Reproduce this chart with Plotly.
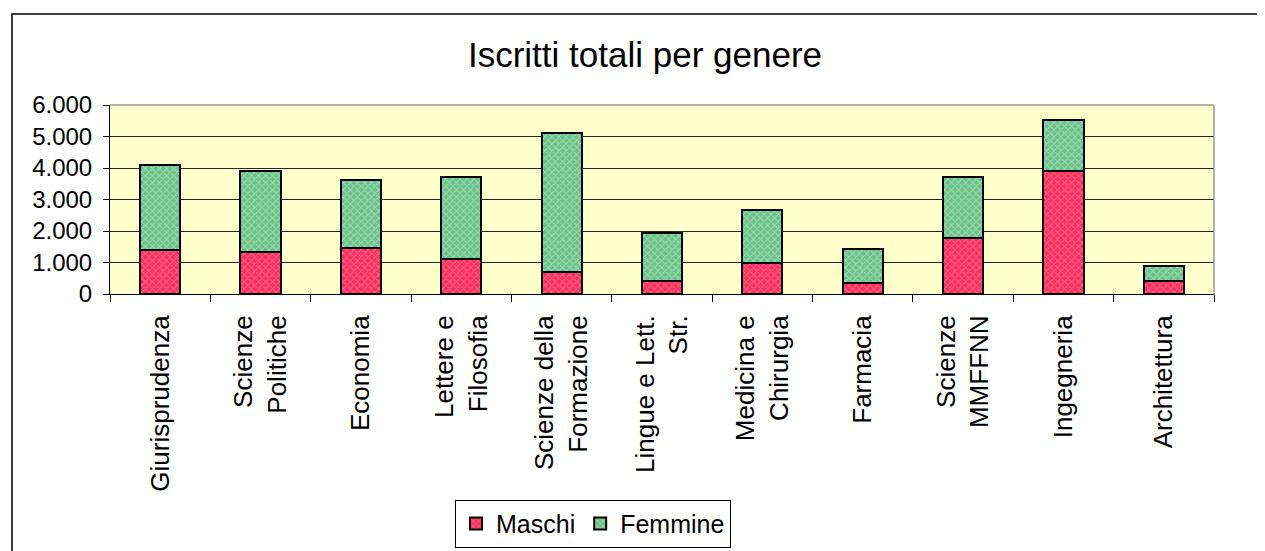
import plotly.graph_objects as go

categories = ["Giurisprudenza", "Scienze<br>Politiche", "Economia", "Lettere e<br>Filosofia",
              "Scienze della<br>Formazione", "Lingue e Lett.<br>Str.", "Medicina e<br>Chirurgia",
              "Farmacia", "Scienze<br>MMFFNN", "Ingegneria", "Architettura"]
maschi = [1395, 1345, 1470, 1110, 705, 400, 1000, 345, 1765, 3915, 400]
totali = [4080, 3915, 3620, 3725, 5100, 1940, 2655, 1415, 3725, 5510, 880]
femmine = [t - m for t, m in zip(totali, maschi)]
y_ticks = [0, 1000, 2000, 3000, 4000, 5000, 6000]

FONT = "Liberation Sans, Arial, sans-serif"

fig = go.Figure()
fig.add_trace(go.Bar(
    x=categories, y=maschi, name="Maschi", width=0.4,
    marker=dict(color="#FF2D5A", line=dict(color="black", width=2),
                pattern=dict(shape="x", fgcolor="#FF9CC8", size=5, solidity=0.35)),
))
fig.add_trace(go.Bar(
    x=categories, y=femmine, name="Femmine", width=0.4,
    marker=dict(color="#6CC08C", line=dict(color="black", width=2),
                pattern=dict(shape="x", fgcolor="#CCFFD0", size=5, solidity=0.35)),
))

fig.update_layout(
    barmode="stack",
    width=1265, height=551,
    margin=dict(l=102, r=59, t=97, b=263),
    paper_bgcolor="white",
    plot_bgcolor="#FFFFCC",
    separators=",.",
    font=dict(family=FONT, color="black", size=24),
    title=dict(text="Iscritti totali per genere", x=637 / 1265, xanchor="center",
               y=1 - 47 / 551, yanchor="middle",
               font=dict(size=35, family=FONT, color="black")),
    showlegend=True,
    legend=dict(orientation="h", x=0.4375, xanchor="center", y=-1.089, yanchor="top",
                bordercolor="black", borderwidth=1, bgcolor="white",
                font=dict(size=25, family=FONT), traceorder="normal",
                itemwidth=30),
    bargap=0.6,
)
fig.update_yaxes(range=[0, 6000], tickvals=y_ticks, tickformat=",d",
                 showgrid=True, gridcolor="#222222", gridwidth=1,
                 showline=True, linecolor="black", linewidth=1,
                 ticks="outside", ticklen=6, tickcolor="black",
                 ticklabelstandoff=6,
                 tickfont=dict(size=24), fixedrange=True, zeroline=False)
fig.update_xaxes(type="category", tickangle=-90, tickson="boundaries",
                 showline=True, linecolor="black", linewidth=1,
                 ticks="outside", ticklen=7, tickcolor="black",
                 ticklabelstandoff=10,
                 tickfont=dict(size=26), mirror=False, fixedrange=True)

# plot area border (top & right, grey) and chart outer border
fig.add_shape(type="line", xref="paper", yref="paper", x0=0, x1=1, y0=1, y1=1,
              line=dict(color="#999999", width=1.5))
fig.add_shape(type="line", xref="paper", yref="paper", x0=1, x1=1, y0=0, y1=1,
              line=dict(color="#999999", width=1.5))
fig.add_shape(type="rect", xref="paper", yref="paper",
              x0=(12 - 110) / 1104, x1=1.2, y0=-2, y1=(296 - 13) / 191,
              line=dict(color="black", width=1.5), layer="below")

fig.write_html("out.html")
